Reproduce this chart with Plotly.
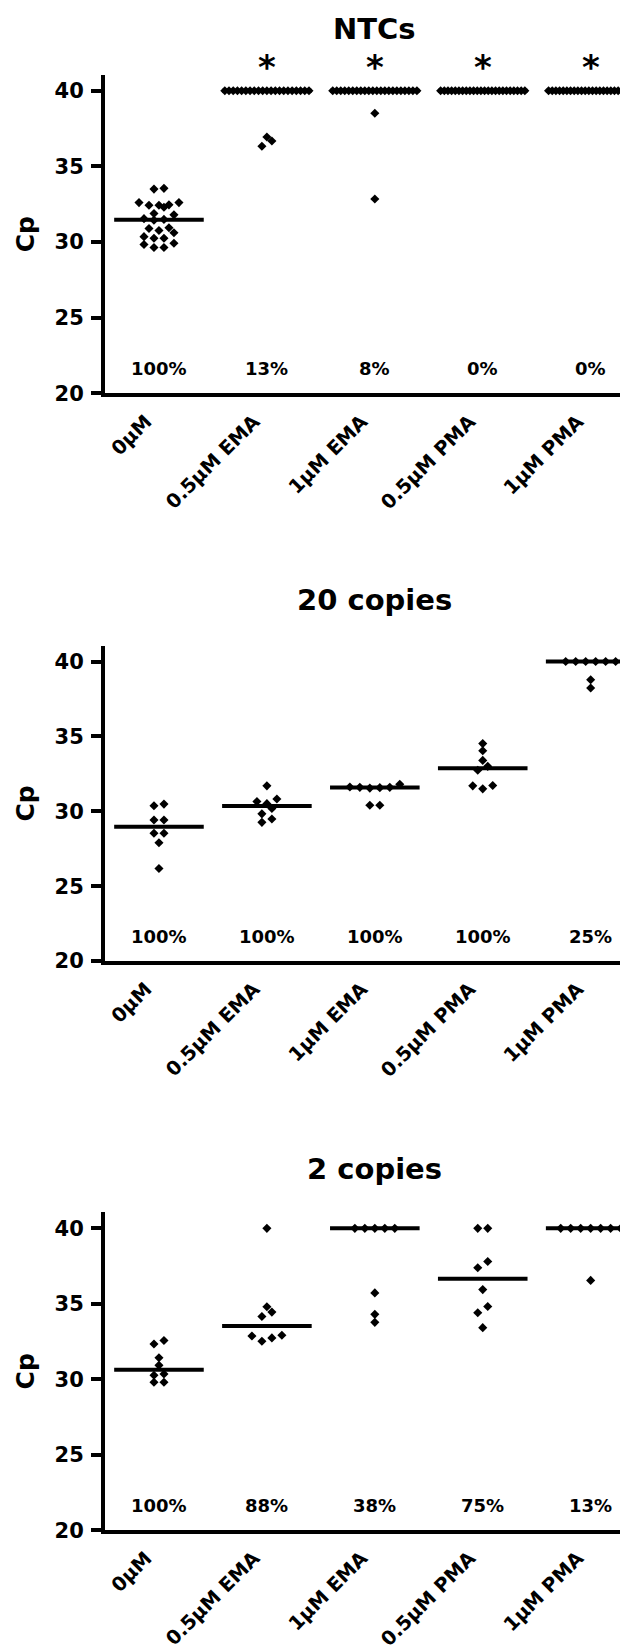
import numpy as np
import plotly.graph_objects as go

# ---------------- data ----------------
categories = ["0µM", "0.5µM EMA", "1µM EMA", "0.5µM PMA", "1µM PMA"]
panel_titles = ["NTCs", "20 copies", "2 copies"]

ntc_values = [
    [33.55, 33.50, 32.61, 32.61, 32.46, 32.43, 32.43, 32.30, 31.89, 31.80, 31.55, 31.50,
     31.45, 30.95, 30.90, 30.77, 30.62, 30.36, 30.25, 30.25, 29.92, 29.84, 29.64, 29.64],
    [40, 40, 40, 40, 40, 40, 40, 40, 40, 40, 40, 40, 40, 40, 40, 40, 40, 40, 40, 40, 40,
     36.94, 36.68, 36.33],
    [40, 40, 40, 40, 40, 40, 40, 40, 40, 40, 40, 40, 40, 40, 40, 40, 40, 40, 40, 40, 40, 40,
     38.51, 32.85],
    [40, 40, 40, 40, 40, 40, 40, 40, 40, 40, 40, 40, 40, 40, 40, 40, 40, 40, 40, 40, 40, 40,
     40, 40],
    [40, 40, 40, 40, 40, 40, 40, 40, 40, 40, 40, 40, 40, 40, 40, 40, 40, 40, 40, 40, 40, 40,
     40, 40],
]
copies20_values = [
    [30.48, 30.37, 29.42, 29.42, 28.53, 28.53, 27.90, 26.18],
    [31.70, 30.82, 30.65, 30.51, 30.19, 29.83, 29.48, 29.26],
    [31.80, 31.62, 31.60, 31.60, 31.58, 31.55, 30.40, 30.40],
    [34.52, 34.04, 33.40, 33.00, 32.74, 31.72, 31.70, 31.50],
    [40, 40, 40, 40, 40, 40, 38.78, 38.23],
]
copies2_values = [
    [32.57, 32.34, 31.42, 30.92, 30.35, 30.26, 29.80, 29.80],
    [40, 34.80, 34.45, 34.16, 32.91, 32.87, 32.74, 32.52],
    [40, 40, 40, 40, 40, 35.72, 34.30, 33.77],
    [40, 40, 37.80, 37.39, 35.94, 34.82, 34.41, 33.42],
    [40, 40, 40, 40, 40, 40, 40, 36.55],
]
ntc_pct = ["100%", "13%", "8%", "0%", "0%"]
copies20_pct = ["100%", "100%", "100%", "100%", "25%"]
copies2_pct = ["100%", "88%", "38%", "75%", "13%"]
ntc_sig = ["", "*", "*", "*", "*"]
copies20_sig = ["", "", "", "", ""]
copies2_sig = ["", "", "", "", ""]

panels = [
    (ntc_values, ntc_pct, ntc_sig),
    (copies20_values, copies20_pct, copies20_sig),
    (copies2_values, copies2_pct, copies2_sig),
]

# ---------------- layout helpers ----------------
W, H = 628, 1650
FONT = "DejaVu Sans, Verdana, sans-serif"
STEP = 0.0925      # horizontal slot spacing (category units)
MAXSPAN = 0.78     # max spread of a row
HALF = 0.415       # half width of median line
TOL = 0.42         # values closer than this share a row
LABEL_SHIFT = 0.12  # rotated tick labels: move so that their end sits at the category


def swarm_offsets(vals):
    vals = np.asarray(vals, dtype=float)
    order = np.argsort(vals, kind="stable")
    rows, cur = [], []
    for idx in order:
        if cur and vals[idx] - vals[cur[0]] > TOL:
            rows.append(cur)
            cur = []
        cur.append(idx)
    if cur:
        rows.append(cur)
    off = np.zeros(len(vals))
    for row in rows:
        n = len(row)
        if n == 1:
            continue
        s = min(STEP, MAXSPAN / (n - 1))
        slots = [k - (n - 1) / 2 for k in range(n)]
        if np.ptp(vals[row]) != 0:
            slots = sorted(slots, key=lambda v: (abs(v), v))
        for idx, sl in zip(row, slots):
            off[idx] = sl * s
    return off


# pixel geometry of the three plot areas (top, bottom) in px
areas = [(67.3, 388.3), (642.5, 960.0), (1213.3, 1533.3)]
title_y = [21.5, 596.7, 1170.0]
L = 97
YMIN, YMAX = 20, 41.05

fig = go.Figure()
layout = dict(
    width=W, height=H,
    margin=dict(l=L, r=0, t=0, b=0),
    paper_bgcolor="white", plot_bgcolor="white",
    showlegend=False,
    font=dict(family=FONT, color="black"),
)
annotations = []

for p, (vals_list, pct, sig) in enumerate(panels):
    xa = "x" if p == 0 else f"x{p+1}"
    ya = "y" if p == 0 else f"y{p+1}"
    top, bot = areas[p]
    layout["xaxis" if p == 0 else f"xaxis{p+1}"] = dict(
        domain=[0, 1], anchor=ya, range=[-0.5, 4.42],
        tickvals=[i - LABEL_SHIFT for i in range(len(categories))], ticktext=categories,
        tickangle=-45, ticks="", showgrid=False, zeroline=False,
        showline=True, linewidth=4, linecolor="black",
        tickfont=dict(family=FONT, size=19.5, color="black", weight="bold"),
        ticklabelstandoff=5,
    )
    layout["yaxis" if p == 0 else f"yaxis{p+1}"] = dict(
        domain=[1 - bot / H, 1 - top / H], anchor=xa, range=[YMIN, YMAX],
        tickvals=[20, 25, 30, 35, 40], ticks="outside", ticklen=10, tickwidth=3.5,
        tickcolor="black", showgrid=False, zeroline=False,
        showline=True, linewidth=4, linecolor="black",
        tickfont=dict(family=FONT, size=21, color="black", weight="bold"),
        ticklabelstandoff=3,
        title=dict(text="Cp", font=dict(family=FONT, size=25, color="black", weight="bold"),
                   standoff=14),
    )
    for i, vals in enumerate(vals_list):
        off = swarm_offsets(vals)
        med = float(np.median(vals))
        fig.add_trace(go.Scatter(
            x=[i - HALF, i + HALF], y=[med, med], mode="lines",
            line=dict(color="black", width=4), xaxis=xa, yaxis=ya, hoverinfo="skip"))
        fig.add_trace(go.Scatter(
            x=i + off, y=vals, mode="markers",
            marker=dict(symbol="diamond", size=7, color="black", line=dict(width=0)),
            xaxis=xa, yaxis=ya, cliponaxis=False))
        annotations.append(dict(
            x=i, y=21.65, xref=xa, yref=ya, text=pct[i], showarrow=False,
            font=dict(family=FONT, size=18, color="black", weight="bold")))
        if sig[i]:
            annotations.append(dict(
                x=i, y=1.0, xref=xa, yref=f"{ya} domain", text=sig[i], showarrow=False,
                xanchor="center", yanchor="middle", yshift=8,
                font=dict(family=FONT, size=34, color="black", weight="bold")))
    annotations.append(dict(
        x=(366 - L) / (W - L), y=1 - title_y[p] / H, xref="paper", yref="paper",
        text=panel_titles[p], showarrow=False, xanchor="center", yanchor="middle",
        font=dict(family=FONT, size=29, color="black", weight="bold")))

layout["annotations"] = annotations
fig.update_layout(**layout)
fig.write_html("out.html")
